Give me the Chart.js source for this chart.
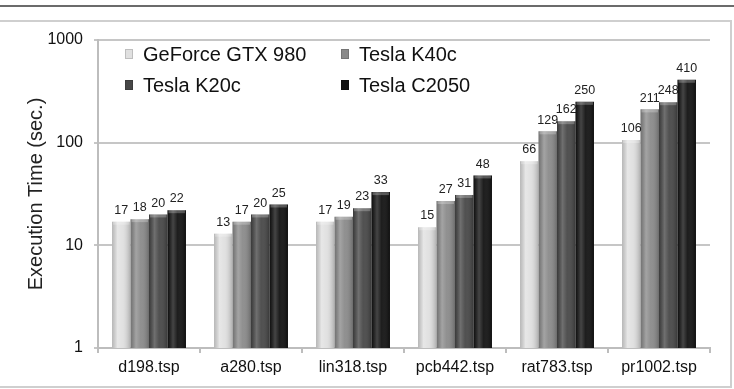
<!DOCTYPE html>
<html>
<head>
<meta charset="utf-8">
<script src="https://cdn.jsdelivr.net/npm/chart.js@4"></script>
<style>
  html, body { margin: 0; padding: 0; background: #fff; }
  #wrap { width: 734px; height: 389px; }
</style>
</head>
<body>
<div id="wrap"><canvas id="c-chart-bar"></canvas></div>
<script>
// data
var categories = ['d198.tsp', 'a280.tsp', 'lin318.tsp', 'pcb442.tsp', 'rat783.tsp', 'pr1002.tsp']
var seriesNames = ['GeForce GTX 980', 'Tesla K40c', 'Tesla K20c', 'Tesla C2050']
var gtx980 = [17, 13, 17, 15, 66, 106]
var k40c = [18, 17, 19, 27, 129, 211]
var k20c = [20, 20, 23, 31, 162, 248]
var c2050 = [22, 25, 33, 48, 250, 410]
var yTicks = [1, 10, 100, 1000]

var barColors = ['#e0e0e0', '#8a8a8a', '#474747', '#111111']
var fontFamily = '"Liberation Sans", Arial, sans-serif'

// page frame: dark rule on top, light box around the chart
var framePlugin = {
  id: 'frame',
  beforeDraw: function(chart) {
    var ctx = chart.ctx
    ctx.save()
    ctx.strokeStyle = '#3a3a3a'
    ctx.lineWidth = 1.5
    ctx.beginPath()
    ctx.moveTo(0, 6)
    ctx.lineTo(734, 6)
    ctx.stroke()
    ctx.strokeStyle = '#cfcfcf'
    ctx.lineWidth = 2
    ctx.beginPath()
    ctx.moveTo(0, 21)
    ctx.lineTo(731, 21)
    ctx.lineTo(731, 387)
    ctx.lineTo(0, 387)
    ctx.stroke()
    ctx.restore()
  }
}

// shading on each bar plus the value above it
var barLabelPlugin = {
  id: 'barLabels',
  afterDatasetsDraw: function(chart) {
    var ctx = chart.ctx
    ctx.save()
    chart.data.datasets.forEach(function(ds, di) {
      var meta = chart.getDatasetMeta(di)
      meta.data.forEach(function(bar, i) {
        var left = bar.x - bar.width / 2
        var g = ctx.createLinearGradient(left, 0, left + bar.width, 0)
        g.addColorStop(0, 'rgba(0,0,0,0.18)')
        g.addColorStop(0.3, 'rgba(255,255,255,0.22)')
        g.addColorStop(0.55, 'rgba(255,255,255,0.05)')
        g.addColorStop(1, 'rgba(0,0,0,0.22)')
        ctx.fillStyle = g
        ctx.fillRect(left, bar.y, bar.width, bar.base - bar.y)
        // top cap
        ctx.fillStyle = 'rgba(255,255,255,0.25)'
        ctx.fillRect(left + 1, bar.y, bar.width - 2, 3)
        ctx.fillStyle = '#222'
        ctx.font = '12.5px ' + fontFamily
        ctx.textAlign = 'center'
        ctx.textBaseline = 'bottom'
        ctx.fillText(String(ds.data[i]), bar.x, bar.y - 5)
      })
    })
    ctx.restore()
  }
}

// legend in two columns inside the plot
var legendPlugin = {
  id: 'insideLegend',
  afterDraw: function(chart) {
    var ctx = chart.ctx
    var cols = [125, 341]
    var rows = [54, 85]
    ctx.save()
    ctx.font = '20px ' + fontFamily
    ctx.textBaseline = 'middle'
    ctx.textAlign = 'left'
    seriesNames.forEach(function(name, i) {
      var x = cols[i % 2]
      var y = rows[Math.floor(i / 2)]
      ctx.fillStyle = barColors[i]
      ctx.fillRect(x, y - 5, 8, 10)
      ctx.strokeStyle = 'rgba(0,0,0,0.15)'
      ctx.lineWidth = 1
      ctx.strokeRect(x + 0.5, y - 4.5, 7, 9)
      ctx.fillStyle = '#111'
      ctx.fillText(name, x + 18, y + 1)
    })
    ctx.restore()
  }
}

var seriesValues = [gtx980, k40c, k20c, c2050]

var config = {
  type: 'bar',
  data: {
    labels: categories,
    datasets: seriesValues.map(function(vals, i) {
      return {
        label: seriesNames[i],
        data: vals,
        backgroundColor: barColors[i],
        borderWidth: 0,
        categoryPercentage: 0.725,
        barPercentage: 1.0
      }
    })
  },
  options: {
    responsive: true,
    maintainAspectRatio: false,
    animation: false,
    layout: { padding: { left: 21, right: 24, top: 40, bottom: 0 } },
    plugins: {
      legend: { display: false },
      tooltip: { enabled: false }
    },
    scales: {
      x: {
        grid: { drawOnChartArea: false, drawTicks: true, tickLength: 5, color: '#bdbdbd', lineWidth: 2 },
        border: { color: '#bdbdbd', width: 2 },
        ticks: { color: '#111', font: { family: fontFamily, size: 16 }, padding: 5, maxRotation: 0 },
        afterFit: function(s) { s.height = 41 }
      },
      y: {
        type: 'logarithmic',
        min: 1,
        max: 1000,
        afterBuildTicks: function(s) {
          s.ticks = yTicks.map(function(v) { return { value: v, major: true } })
        },
        grid: { color: '#c6c6c6', lineWidth: 2, tickLength: 4 },
        border: { color: '#bdbdbd', width: 2 },
        ticks: {
          color: '#111',
          font: { family: fontFamily, size: 16 },
          padding: 11,
          callback: function(v) { return String(v) }
        },
        title: {
          display: true,
          text: 'Execution Time (sec.)',
          color: '#222',
          font: { family: fontFamily, size: 20 },
          padding: { top: 3, bottom: 0 }
        },
        afterFit: function(s) { s.width = 77 }
      }
    }
  },
  plugins: [framePlugin, barLabelPlugin, legendPlugin]
}

var ctx = document.getElementById('c-chart-bar').getContext('2d')
new Chart(ctx, config)
</script>
</body>
</html>
